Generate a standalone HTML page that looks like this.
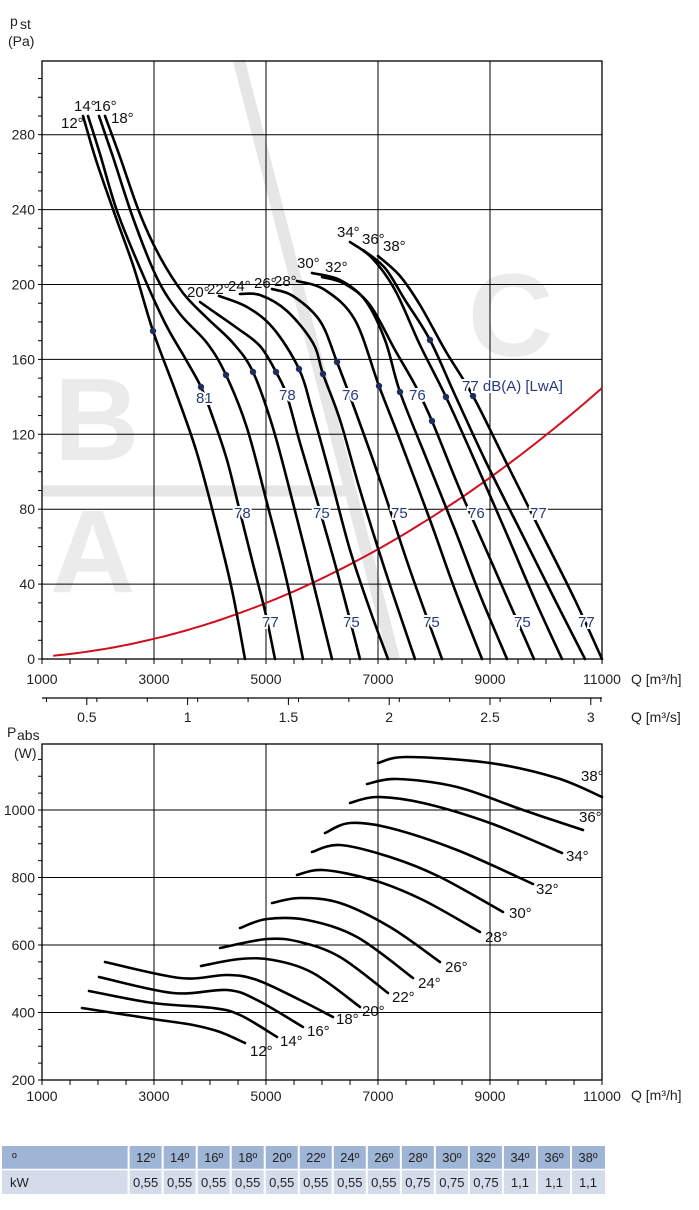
<!DOCTYPE html>
<html><head><meta charset="utf-8">
<style>
html,body{margin:0;padding:0;background:#fff;}
svg{display:block;font-family:"Liberation Sans Narrow","Liberation Sans",sans-serif;}
.ax{font-size:14px;fill:#222;}
.dg{font-size:15px;fill:#111;}
.bl{font-size:15px;fill:#2b3a78;paint-order:stroke;stroke:#fff;stroke-width:4px;}
.c{fill:none;stroke:#000;stroke-width:2.6;stroke-linecap:round;}
.g{stroke:#000;stroke-width:1;}
.tb{font-size:13px;fill:#222;}
</style></head><body>
<svg id="s" width="699" height="1210" viewBox="0 0 699 1210" xmlns="http://www.w3.org/2000/svg">
<g fill="#ebebeb" font-family="Liberation Sans,sans-serif" font-weight="bold" font-size="118">
<text x="54" y="460">B</text><text x="50" y="592">A</text><text x="468" y="356">C</text>
</g>
<line x1="239" y1="61" x2="394" y2="659" stroke="#e6e6e6" stroke-width="12"/>
<line x1="42" y1="491" x2="350" y2="491" stroke="#e6e6e6" stroke-width="11"/>
<g id="topgrid"></g>
<g id="curves"></g>
<g id="dots" fill="#1f2d5c"></g>
<text class="ax" x="10" y="26" font-size="17">p</text><text class="ax" x="20" y="29" font-size="10">st</text>
<text class="ax" x="8" y="46">(Pa)</text>
<text class="ax" x="7" y="737" font-size="15">P</text><text class="ax" x="17" y="740" font-size="10">abs</text>
<text class="ax" x="14" y="758">(W)</text>
<text class="ax" x="631" y="684">Q [m³/h]</text>
<text class="ax" x="631" y="722">Q [m³/s]</text>
<text class="ax" x="631" y="1100">Q [m³/h]</text>
<g class="dg">
<text x="61" y="128">12°</text><text x="74" y="111">14°</text><text x="94" y="111">16°</text><text x="111" y="123">18°</text>
<text x="187" y="297">20°</text><text x="207" y="294">22°</text><text x="228" y="291">24°</text><text x="254" y="288">26°</text><text x="274" y="286">28°</text>
<text x="297" y="268">30°</text><text x="325" y="272">32°</text><text x="337" y="237">34°</text><text x="362" y="244">36°</text><text x="383" y="251">38°</text>
</g>
<g class="bl">
<text x="196" y="403">81</text><text x="279" y="400">78</text><text x="342" y="400">76</text><text x="409" y="400">76</text><text x="462" y="391">77 dB(A) [LwA]</text>
<text x="234" y="518">78</text><text x="313" y="518">75</text><text x="391" y="518">75</text><text x="468" y="518">76</text><text x="530" y="518">77</text>
<text x="262" y="627">77</text><text x="343" y="627">75</text><text x="423" y="627">75</text><text x="514" y="627">75</text><text x="578" y="627">77</text>
</g>
<g class="dg">
<text x="250" y="1056">12°</text><text x="280" y="1046">14°</text><text x="307" y="1036">16°</text><text x="336" y="1024">18°</text><text x="362" y="1016">20°</text><text x="392" y="1002">22°</text><text x="418" y="988">24°</text><text x="445" y="972">26°</text><text x="485" y="942">28°</text><text x="509" y="918">30°</text><text x="536" y="894">32°</text><text x="566" y="861">34°</text><text x="579" y="822">36°</text><text x="581" y="781">38°</text>
</g>
<g id="tbl"></g>
</svg>
<script>
var NS="http://www.w3.org/2000/svg",s=document.getElementById('s');
function el(p,t,a,txt){var e=document.createElementNS(NS,t);for(var k in a)e.setAttribute(k,a[k]);if(txt!=null)e.textContent=txt;p.appendChild(e);return e;}
var tg=document.getElementById('topgrid');
function X(q){return 42+(q-1000)*0.056;}
[3000,5000,7000,9000].forEach(function(q){el(tg,'line',{x1:X(q),y1:61,x2:X(q),y2:659,'class':'g'});});
for(var p=40;p<=280;p+=40){var y=659-p*1.8725;el(tg,'line',{x1:42,y1:y,x2:602,y2:y,'class':'g'});}
el(tg,'rect',{x:42,y:61,width:560,height:598,fill:'none',stroke:'#000','stroke-width':1.3});
for(var p=0;p<=320;p+=10){var y=659-p*1.8725;if(y<61)break;el(tg,'line',{x1:38,y1:y,x2:42,y2:y,stroke:'#000'});}
for(var p=0;p<=280;p+=40){el(tg,'text',{x:35,y:659-p*1.8725+5,'text-anchor':'end','class':'ax'},p);}
for(var q=1000;q<=11000;q+=500){el(tg,'line',{x1:X(q),y1:659,x2:X(q),y2:664,stroke:'#000'});}
for(var q=1000;q<=11000;q+=2000){el(tg,'text',{x:X(q),y:684,'text-anchor':'middle','class':'ax'},q);}
el(tg,'line',{x1:42,y1:698,x2:602,y2:698,stroke:'#000','stroke-width':1.2});
for(var v=0.3;v<=3.06;v+=0.25){var xx=42+(v*3600-1000)*0.056;if(xx<42)continue;el(tg,'line',{x1:xx,y1:698,x2:xx,y2:702,stroke:'#000'});}
[0.5,1,1.5,2,2.5,3].forEach(function(v){var xx=42+(v*3600-1000)*0.056;el(tg,'line',{x1:xx,y1:698,x2:xx,y2:705,stroke:'#000'});el(tg,'text',{x:xx,y:722,'text-anchor':'middle','class':'ax'},v);});
function YB(w){return 1080-(w-200)*0.3375;}
[3000,5000,7000,9000].forEach(function(q){el(tg,'line',{x1:X(q),y1:744,x2:X(q),y2:1080,'class':'g'});});
[400,600,800,1000].forEach(function(w){el(tg,'line',{x1:42,y1:YB(w),x2:602,y2:YB(w),'class':'g'});});
el(tg,'rect',{x:42,y:744,width:560,height:336,fill:'none',stroke:'#000','stroke-width':1.3});
for(var w=200;w<=1150;w+=50){el(tg,'line',{x1:38,y1:YB(w),x2:42,y2:YB(w),stroke:'#000'});}
[200,400,600,800,1000].forEach(function(w){el(tg,'text',{x:35,y:YB(w)+5,'text-anchor':'end','class':'ax'},w);});
for(var q=1000;q<=11000;q+=500){el(tg,'line',{x1:X(q),y1:1080,x2:X(q),y2:1085,stroke:'#000'});}
for(var q=1000;q<=11000;q+=2000){el(tg,'text',{x:X(q),y:1101,'text-anchor':'middle','class':'ax'},q);}
function sp(P){var d='M'+P[0][0]+','+P[0][1];for(var i=0;i<P.length-1;i++){var p0=P[i-1]||P[i],p1=P[i],p2=P[i+1],p3=P[i+2]||p2;
var c1=[p1[0]+(p2[0]-p0[0])/6,p1[1]+(p2[1]-p0[1])/6],c2=[p2[0]-(p3[0]-p1[0])/6,p2[1]-(p3[1]-p1[1])/6];
d+=' C'+c1[0].toFixed(1)+','+c1[1].toFixed(1)+' '+c2[0].toFixed(1)+','+c2[1].toFixed(1)+' '+p2[0]+','+p2[1];}return d;}
var cv=document.getElementById('curves');
var R=[];for(var q=1200;q<=11000;q+=200){R.push([+X(q).toFixed(1),+(659-271*q*q/121e6).toFixed(1)]);}
el(cv,'path',{d:sp(R),fill:'none',stroke:'#d0101f','stroke-width':2});
var T=[
[[83,116],[96,160],[115,215],[134,268],[153,331],[175,390],[196,450],[215,520],[232,590],[245,659]],
[[88,116],[100,154],[117,211],[140,268],[165,323],[185,358],[201,387],[213,418],[227,460],[240,512],[253,564],[265,611],[275,659]],
[[99,116],[113,157],[133,218],[157,278],[180,314],[207,343],[226,375],[247,428],[267,503],[287,582],[303,659]],
[[105,116],[120,157],[140,214],[160,257],[183,293],[207,318],[233,343],[253,372],[273,428],[293,503],[313,582],[332,659]],
[[200,302],[217,314],[237,328],[260,346],[276,372],[287,396],[300,443],[320,511],[340,582],[360,659]],
[[219,296],[247,307],[273,328],[299,369],[313,414],[330,475],[350,550],[370,610],[388,659]],
[[240,294],[260,295],[287,311],[313,343],[323,374],[340,420],[360,490],[385,570],[415,659]],
[[272,289],[293,296],[320,321],[337,362],[355,410],[380,480],[410,570],[442,659]],
[[297,281],[325,290],[355,320],[379,386],[400,440],[430,520],[455,590],[482,659]],
[[312,273],[340,280],[365,300],[385,340],[400,392],[425,455],[455,530],[480,595],[507,659]],
[[322,277],[345,284],[370,305],[395,350],[415,385],[432,421],[460,490],[495,570],[534,659]],
[[350,242],[372,258],[395,290],[420,345],[446,397],[470,450],[505,530],[535,600],[562,659]],
[[363,250],[385,268],[405,300],[430,340],[455,395],[485,460],[520,530],[555,600],[585,659]],
[[378,256],[400,276],[420,305],[445,350],[473,396],[505,460],[540,530],[575,600],[602,659]]];
T.forEach(function(P){el(cv,'path',{d:sp(P),'class':'c'});});
var B=[
[[82,1008],[153,1019],[193,1025],[220,1032],[245,1043]],
[[89,991],[153,1003],[213,1008],[240,1015],[277,1037]],
[[99,977],[173,993],[227,990],[257,1000],[303,1027]],
[[105,962],[180,978],[227,975],[257,980],[300,1000],[333,1017]],
[[201,966],[240,959],[273,960],[313,973],[360,1007]],
[[220,948],[267,939],[300,942],[340,957],[388,993]],
[[240,928],[267,919],[307,920],[357,937],[413,978]],
[[272,903],[300,898],[340,903],[390,927],[440,962]],
[[297,875],[323,870],[373,880],[423,900],[480,932]],
[[312,852],[340,845],[390,857],[440,877],[503,912]],
[[325,833],[350,823],[390,828],[457,850],[533,884]],
[[350,803],[377,797],[423,803],[490,823],[562,853]],
[[367,784],[397,779],[457,787],[523,810],[583,830]],
[[378,763],[407,757],[490,763],[557,778],[602,797]]];
B.forEach(function(P){el(cv,'path',{d:sp(P),'class':'c'});});
var dg=document.getElementById('dots');
[[153,331],[201,387],[226,375],[253,372],[276,372],[299,369],[323,374],[337,362],[379,386],[400,392],[430,340],[432,421],[446,397],[473,396]].forEach(function(d){el(dg,'circle',{cx:d[0],cy:d[1],r:3.2});});
var tb=document.getElementById('tbl');
el(tb,'rect',{x:2,y:1146,width:603,height:23,fill:'#9fb5d5'});
el(tb,'rect',{x:2,y:1170,width:603,height:24,fill:'#d4dcec'});
el(tb,'text',{x:12,y:1162,'class':'tb'},'º');
el(tb,'text',{x:10,y:1187,'class':'tb'},'kW');
var deg=[12,14,16,18,20,22,24,26,28,30,32,34,36,38],kw=['0,55','0,55','0,55','0,55','0,55','0,55','0,55','0,55','0,75','0,75','0,75','1,1','1,1','1,1'];
var x0=128.6,w=34.03;
for(var i=0;i<14;i++){var cx=x0+w*i;el(tb,'line',{x1:cx,y1:1146,x2:cx,y2:1194,stroke:'#fff','stroke-width':2});
el(tb,'text',{x:cx+w/2,y:1162,'text-anchor':'middle','class':'tb'},deg[i]+'º');
el(tb,'text',{x:cx+w/2,y:1187,'text-anchor':'middle','class':'tb'},kw[i]);}
el(tb,'line',{x1:2,y1:1169.5,x2:605,y2:1169.5,stroke:'#fff','stroke-width':1.5});
</script>
</body></html>
